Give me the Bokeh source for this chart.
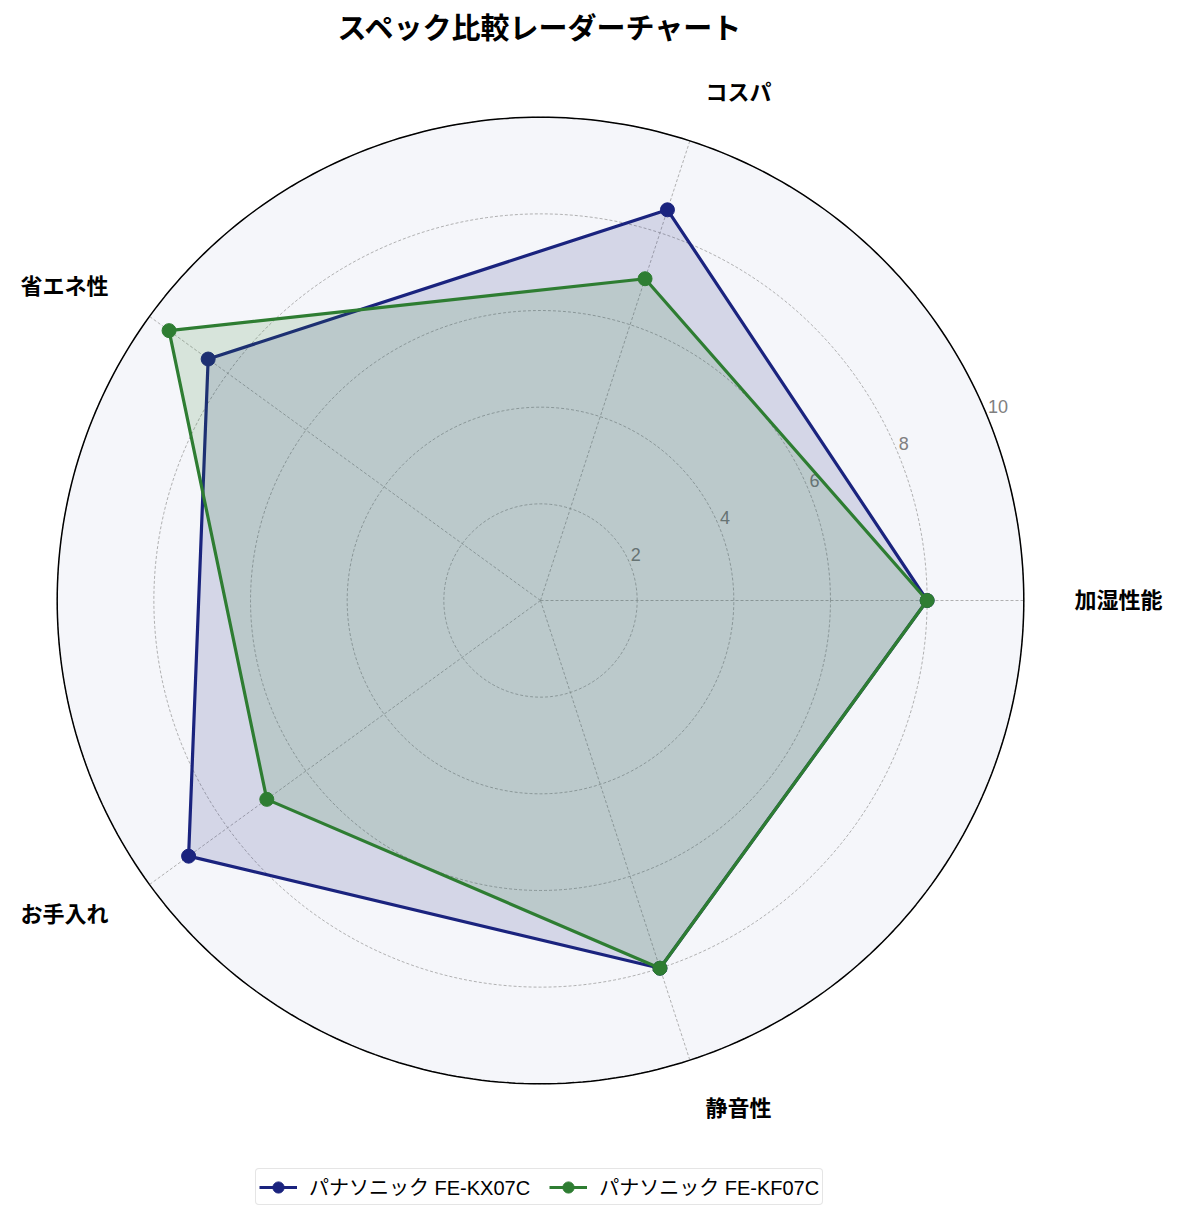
import numpy as np
from bokeh.plotting import figure
from bokeh.models import Legend, LegendItem
from bokeh.core.properties import value
from bokeh.embed import file_html
from bokeh.resources import INLINE

# ---- data ----
title_text = "スペック比較レーダーチャート"
categories = ["加湿性能", "コスパ", "省エネ性", "お手入れ", "静音性"]
series_names = ["パナソニック FE-KX07C", "パナソニック FE-KF07C"]
kx07c_values = [8.0, 8.5, 8.5, 9.0, 8.0]
kf07c_values = [8.0, 7.0, 9.5, 7.0, 8.0]
r_ticks = [2, 4, 6, 8, 10]
r_max = 10

colors = ["#1a237e", "#2e7d32"]
FONT = "Noto Sans CJK JP"
LFONT = "'Liberation Sans', 'Noto Sans CJK JP'"

# ---- geometry (pixel mapping) ----
W, H = 1173, 1212
scale = 48.33          # px per unit
cx_px, cy_px = 540, 600  # center in frame pixels (from top-left)
x_range = (-cx_px / scale, (W - cx_px) / scale)
y_range = (-(H - cy_px) / scale, cy_px / scale)

p = figure(width=W, height=H, x_range=x_range, y_range=y_range,
           output_backend="svg", toolbar_location=None, min_border=0,
           background_fill_color="white", border_fill_color="white")
p.axis.visible = False
p.grid.visible = False
p.outline_line_color = None

n = len(categories)
angles = np.array([2 * np.pi * i / n for i in range(n)])

# background disc
p.circle(x=[0], y=[0], radius=r_max, fill_color="#f5f6fa", line_color=None)

# grid rings
th = np.linspace(0, 2 * np.pi, 361)
for rv in r_ticks:
    p.line(rv * np.cos(th), rv * np.sin(th), line_color="#9e9e9e",
           line_dash="3 2", line_width=0.8)
# spokes
for a in angles:
    p.line([0, r_max * np.cos(a)], [0, r_max * np.sin(a)], line_color="#9e9e9e",
           line_dash="3 2", line_width=0.8)

# outer spine
p.line(r_max * np.cos(th), r_max * np.sin(th), line_color="black", line_width=1.5)

# radial tick labels
la = np.deg2rad(22.5)
p.text(x=[rv * np.cos(la) + 1 / scale for rv in r_ticks],
       y=[rv * np.sin(la) + 3 / scale for rv in r_ticks],
       text=[str(rv) for rv in r_ticks], text_font=value(LFONT),
       text_font_size="18px", text_color="#808080",
       text_align="left", text_baseline="bottom")

# series
items = []
for name, vals, col in zip(series_names, [kx07c_values, kf07c_values], colors):
    v = np.array(vals)
    xs = v * np.cos(angles)
    ys = v * np.sin(angles)
    p.patch(list(xs), list(ys), fill_color=col, fill_alpha=0.15, line_color=None)
    xc = list(xs) + [xs[0]]
    yc = list(ys) + [ys[0]]
    ln = p.line(xc, yc, line_color=col, line_width=3.2)
    sc = p.scatter(list(xs), list(ys), size=14, fill_color=col, line_color=col)
    items.append(LegendItem(label=name, renderers=[ln, sc]))

# category labels
R_lab = 11.05
for cat, a in zip(categories, angles):
    c = np.cos(a)
    align = "left" if c > 0.01 else ("right" if c < -0.01 else "center")
    p.text(x=[R_lab * np.cos(a)], y=[R_lab * np.sin(a) + 2.5 / scale], text=[cat],
           text_font=value(FONT), text_font_style="bold", text_font_size="22px",
           text_color="black", text_align=align, text_baseline="middle")

# title
p.text(x=[0], y=[(cy_px - 25) / scale], text=[title_text],
       text_font=value(FONT), text_font_style="bold", text_font_size="29px",
       text_color="black", text_align="center", text_baseline="middle")

legend = Legend(items=items, orientation="horizontal", location=(255, 7),
                label_text_font=LFONT, label_text_font_size="20px",
                label_text_color="black",
                glyph_width=38, glyph_height=28, spacing=19, padding=3,
                label_standoff=12, border_line_color="#cccccc", border_line_width=1.5,
                border_radius=4, background_fill_alpha=1.0, margin=0)
p.add_layout(legend)

open("out.html", "w").write(file_html(p, INLINE))
